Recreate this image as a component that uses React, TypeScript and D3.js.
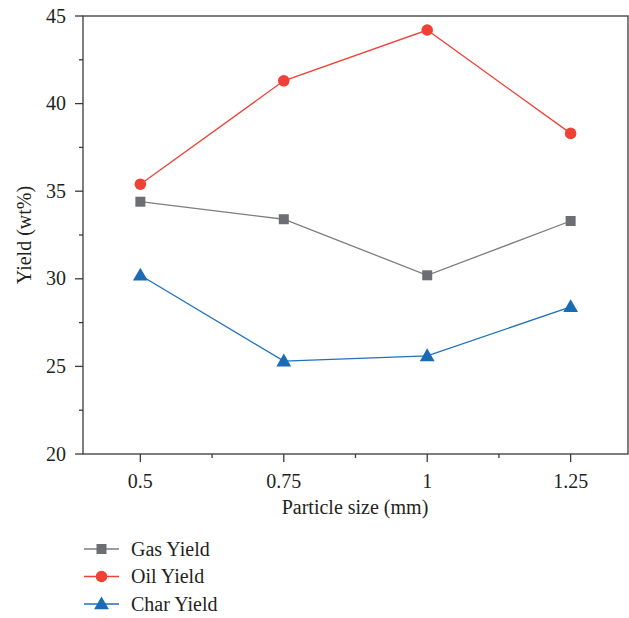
import React from "react";
import * as d3 from "d3";

const sizes = [0.5, 0.75, 1, 1.25];
const gasYield = [34.4, 33.4, 30.2, 33.3];
const oilYield = [35.4, 41.3, 44.2, 38.3];
const charYield = [30.2, 25.3, 25.6, 28.4];
const xTicks = [0.5, 0.75, 1, 1.25];
const xTickLabels = ["0.5", "0.75", "1", "1.25"];
const yTicks = [20, 25, 30, 35, 40, 45];
const seriesNames = ["Gas Yield", "Oil Yield", "Char Yield"];

const W = 629, H = 618;
const left = 83, right = 628, top = 16, bottom = 454;
const FONT = "'Liberation Serif', 'Times New Roman', serif";
const FS = 20;

export default function App() {
  const x = d3.scaleLinear().domain([0.4, 1.35]).range([left, right]);
  const y = d3.scaleLinear().domain([20, 45]).range([bottom, top]);
  const line = d3.line<number>().x((_, i) => x(sizes[i])).y((d) => y(d));

  const series = [
    { name: seriesNames[0], data: gasYield, line: "#7d7d7d", fill: "#6d6e71", shape: "square" },
    { name: seriesNames[1], data: oilYield, line: "#ef4136", fill: "#ef4136", shape: "circle" },
    { name: seriesNames[2], data: charYield, line: "#1f70bf", fill: "#1a6bb5", shape: "triangle" },
  ];

  const marker = (shape: string, cx: number, cy: number, fill: string, key: any) => {
    if (shape === "square") return <rect key={key} x={cx - 5} y={cy - 5} width={10} height={10} fill={fill} />;
    if (shape === "circle") return <circle key={key} cx={cx} cy={cy} r={5.8} fill={fill} />;
    const s = d3.symbol().type(d3.symbolTriangle).size(95)();
    return <path key={key} d={s || ""} transform={`translate(${cx},${cy + 1})`} fill={fill} />;
  };

  const minorX = d3.range(0.375, 1.36, 0.125).filter((v) => x(v) >= left && x(v) <= right && !xTicks.some((t) => Math.abs(t - v) < 1e-6));
  const minorY = [22.5, 27.5, 32.5, 37.5, 42.5];

  return (
    <svg width={W} height={H} style={{ position: "absolute", left: 0, top: 0, background: "#fff" }} fontFamily={FONT}>
      <rect x={0} y={0} width={W} height={H} fill="#fff" />
      <rect x={left} y={top} width={right - left} height={bottom - top} fill="none" stroke="#3a3a3a" strokeWidth={1.3} />
      {yTicks.map((t) => (
        <g key={"y" + t}>
          <line x1={left - 8} x2={left} y1={y(t)} y2={y(t)} stroke="#3a3a3a" strokeWidth={1.3} />
          <text x={left - 17} y={y(t)} dy="0.33em" textAnchor="end" fontSize={FS} fill="#231f20">{t}</text>
        </g>
      ))}
      {minorY.map((t) => (
        <line key={"my" + t} x1={left - 4} x2={left} y1={y(t)} y2={y(t)} stroke="#3a3a3a" strokeWidth={1.3} />
      ))}
      {xTicks.map((t, i) => (
        <g key={"x" + t}>
          <line x1={x(t)} x2={x(t)} y1={bottom} y2={bottom + 8} stroke="#3a3a3a" strokeWidth={1.3} />
          <text x={x(t)} y={bottom + 34} textAnchor="middle" fontSize={FS} fill="#231f20">{xTickLabels[i]}</text>
        </g>
      ))}
      {minorX.map((t) => (
        <line key={"mx" + t} x1={x(t)} x2={x(t)} y1={bottom} y2={bottom + 4} stroke="#3a3a3a" strokeWidth={1.3} />
      ))}
      <text x={355} y={514} textAnchor="middle" fontSize={FS} fill="#231f20">Particle size (mm)</text>
      <text transform={`translate(31,${(top + bottom) / 2}) rotate(-90)`} textAnchor="middle" fontSize={FS} fill="#231f20">Yield (wt%)</text>
      {series.map((s) => (
        <g key={s.name}>
          <path d={line(s.data) || ""} fill="none" stroke={s.line} strokeWidth={1.3} />
          {s.data.map((v, i) => marker(s.shape, x(sizes[i]), y(v), s.fill, i))}
        </g>
      ))}
      {series.map((s, i) => {
        const ly = 549 + i * 27.5;
        return (
          <g key={"lg" + s.name}>
            <line x1={84} x2={119} y1={ly} y2={ly} stroke={s.line} strokeWidth={1.3} />
            {marker(s.shape, 101.5, ly, s.fill, "m")}
            <text x={131} y={ly} dy="0.33em" fontSize={FS} fill="#231f20">{s.name}</text>
          </g>
        );
      })}
    </svg>
  );
}
